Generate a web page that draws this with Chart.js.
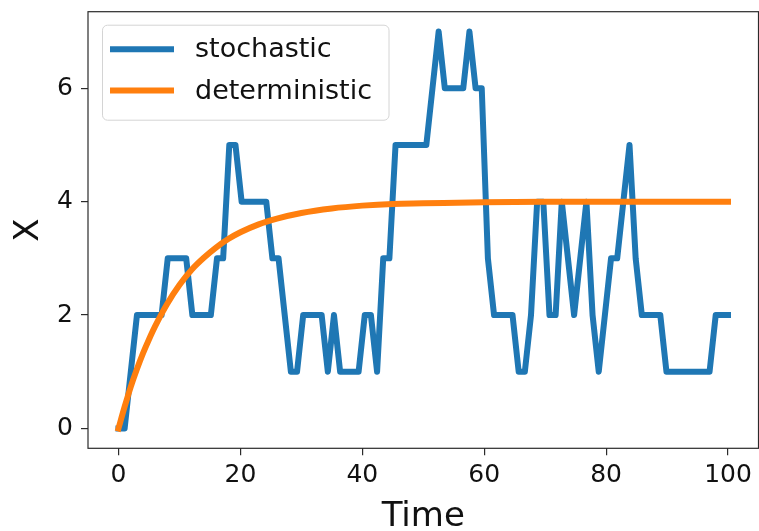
<!DOCTYPE html>
<html>
<head>
<meta charset="utf-8">
<script src="https://cdn.jsdelivr.net/npm/chart.js@4/dist/chart.umd.min.js"></script>
<style>
  html, body { margin: 0; padding: 0; background: #fff; }
  #wrap { width: 759px; height: 531px; }
</style>
</head>
<body>
<div id="wrap"><canvas id="chart" width="759" height="531"></canvas></div>
<script>
// ===== BIRTH-DEATH PROCESS: one stochastic run vs the ODE =====

const T_END = 100;

// stochastic run, 100 samples evenly spaced on [0, T_END]
const stochastic = [
  0, 0, 1, 2, 2, 2, 2, 2, 3, 3,
  3, 3, 2, 2, 2, 2, 3, 3, 5, 5,
  4, 4, 4, 4, 4, 3, 3, 2, 1, 1,
  2, 2, 2, 2, 1, 2, 1, 1, 1, 1,
  2, 2, 1, 3, 3, 5, 5, 5, 5, 5,
  5, 6, 7, 6, 6, 6, 6, 7, 6, 6,
  3, 2, 2, 2, 2, 1, 1, 2, 4, 4,
  2, 2, 4, 3, 2, 3, 4, 2, 1, 2,
  3, 3, 4, 5, 3, 2, 2, 2, 2, 1,
  1, 1, 1, 1, 1, 1, 1, 2, 2, 2
];

// deterministic solution
const detTimes  = [0, 1, 2, 3, 4, 5, 6, 8, 10, 12, 14, 16, 18, 20, 23, 26, 30, 35, 40, 45, 50, 60, 70, 80, 90, 100];
const detValues = [0, 0.38, 0.73, 1.04, 1.32, 1.57, 1.80, 2.20, 2.53, 2.80, 3.01, 3.19, 3.34, 3.46, 3.60, 3.70,
                   3.80, 3.88, 3.93, 3.96, 3.97, 3.99, 4.0, 4.0, 4.0, 4.0];

const xTicks = [0, 20, 40, 60, 80, 100];
const yTicks = [0, 2, 4, 6];

const FONT = '"DejaVu Sans", sans-serif';
const INK = '#111';
const AXIS = '#2b2b2b';

const stochPoints = stochastic.map((v, i) => ({ x: i * T_END / (stochastic.length - 1), y: v }));
const detPoints = detTimes.map((t, i) => ({ x: t, y: detValues[i] }));

// frame round the plot area
const frame = {
  id: 'frame',
  afterDatasetsDraw(chart) {
    const { ctx, chartArea: a } = chart;
    ctx.save();
    ctx.strokeStyle = AXIS;
    ctx.lineWidth = 1.2;
    ctx.strokeRect(a.left, a.top, a.right - a.left, a.bottom - a.top);
    ctx.restore();
  }
};

// legend box in the upper left corner of the axes
const legendBox = {
  id: 'legendBox',
  afterDraw(chart) {
    const { ctx, chartArea: a } = chart;
    const x0 = a.left + 14.5, y0 = a.top + 13.5, w = 286.5, h = 95, r = 5;
    ctx.save();
    ctx.beginPath();
    ctx.moveTo(x0 + r, y0);
    ctx.arcTo(x0 + w, y0, x0 + w, y0 + h, r);
    ctx.arcTo(x0 + w, y0 + h, x0, y0 + h, r);
    ctx.arcTo(x0, y0 + h, x0, y0, r);
    ctx.arcTo(x0, y0, x0 + w, y0, r);
    ctx.closePath();
    ctx.fillStyle = 'rgba(255,255,255,0.8)';
    ctx.fill();
    ctx.strokeStyle = '#d4d4d4';
    ctx.lineWidth = 1;
    ctx.stroke();

    ctx.font = '27px ' + FONT;
    ctx.textBaseline = 'middle';
    chart.data.datasets.forEach((ds, i) => {
      const y = y0 + 24 + i * 41.4;
      ctx.beginPath();
      ctx.moveTo(x0 + 7.5, y);
      ctx.lineTo(x0 + 71.5, y);
      ctx.strokeStyle = ds.borderColor;
      ctx.lineWidth = ds.borderWidth;
      ctx.lineCap = 'butt';
      ctx.stroke();
      ctx.fillStyle = INK;
      ctx.fillText(ds.label, x0 + 92.5, y + 1);
    });
    ctx.restore();
  }
};

new Chart(document.getElementById('chart'), {
  type: 'line',
  data: {
    datasets: [{
      label: 'stochastic',
      data: stochPoints,
      borderColor: '#1f77b4',
      borderWidth: 6,
      borderJoinStyle: 'round',
      borderCapStyle: 'square',
      pointRadius: 0,
      tension: 0,
      order: 1
    }, {
      label: 'deterministic',
      data: detPoints,
      borderColor: '#ff7f0e',
      borderWidth: 6,
      borderCapStyle: 'square',
      cubicInterpolationMode: 'monotone',
      pointRadius: 0,
      order: 0
    }]
  },
  options: {
    responsive: false,
    animation: false,
    devicePixelRatio: 1,
    layout: { padding: { top: 11.7, right: 0.5, left: 0, bottom: 0 } },
    plugins: {
      legend: { display: false },
      tooltip: { enabled: false }
    },
    scales: {
      x: {
        type: 'linear',
        min: -5,
        max: 105,
        afterBuildTicks: axis => { axis.ticks = xTicks.map(v => ({ value: v })); },
        afterFit: axis => {
          axis.height = 82.7;
          axis.paddingLeft = 0;
          axis.paddingRight = 0;
        },
        border: { display: false },
        grid: { drawOnChartArea: false, drawTicks: true, tickLength: 7, color: AXIS, lineWidth: 1.2 },
        ticks: { font: { family: FONT, size: 25 }, color: INK, padding: 5, maxRotation: 0 },
        title: { display: true, text: 'Time', color: INK, font: { family: FONT, size: 34, lineHeight: 1 }, padding: { top: 0, bottom: -3 } }
      },
      y: {
        min: -0.35,
        max: 7.35,
        afterBuildTicks: axis => { axis.ticks = yTicks.map(v => ({ value: v })); },
        afterFit: axis => {
          axis.width = 88;
          axis.paddingTop = 0;
          axis.paddingBottom = 0;
        },
        border: { display: false },
        grid: { drawOnChartArea: false, drawTicks: true, tickLength: 7, color: AXIS, lineWidth: 1.2 },
        ticks: { font: { family: FONT, size: 25 }, color: INK, padding: 8 },
        title: { display: true, text: 'X', color: INK, font: { family: FONT, size: 34, lineHeight: 1 }, padding: { top: 12, bottom: 0 } }
      }
    }
  },
  plugins: [frame, legendBox]
});
</script>
</body>
</html>
